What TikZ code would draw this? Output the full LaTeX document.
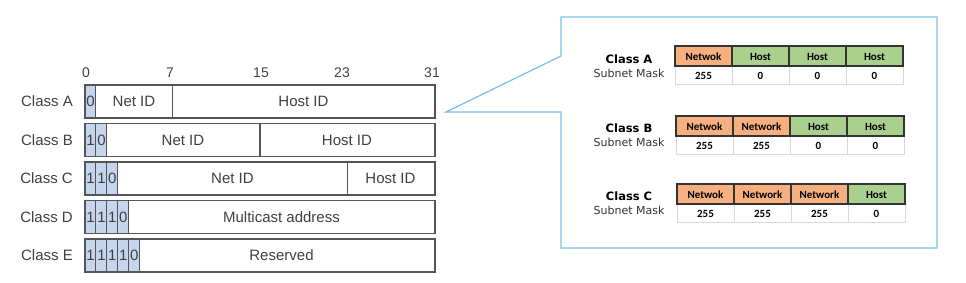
\documentclass[tikz,border=0pt]{standalone}
\usepackage{fontspec}
\setmainfont{Liberation Sans}
\newfontfamily\maskfont{DejaVu Sans}
\newfontfamily\cellfont{Carlito}
\usepackage{tikz}
\usepackage{xcolor}

\definecolor{bitblue}{RGB}{197,213,238}
\definecolor{framegray}{RGB}{85,85,85}
\definecolor{txtgray}{RGB}{64,64,64}
\definecolor{calloutblue}{RGB}{120,192,228}
\definecolor{netorange}{RGB}{246,176,128}
\definecolor{hostgreen}{RGB}{170,208,142}
\definecolor{cellgray}{RGB}{212,218,228}

\begin{document}
\begin{tikzpicture}[x=1pt,y=-1pt,font=\fontsize{15}{17}\selectfont,line cap=round,
  bar/.style={draw=framegray,line width=1.4pt},
  bitcell/.style={draw=framegray,fill=bitblue,line width=1pt},
  lbl/.style={text=txtgray,inner sep=0pt},
  tick/.style={lbl,font=\fontsize{14}{16}\selectfont},
  head/.style={draw=black!80,line width=1.1pt},
  val/.style={draw=cellgray,fill=white,line width=0.6pt},
  celltxt/.style={font=\cellfont\bfseries\fontsize{11}{13}\selectfont,inner sep=0pt},
  masktitle/.style={font=\maskfont\bfseries\fontsize{11.5}{13}\selectfont,inner sep=0pt},
  masksub/.style={font=\maskfont\fontsize{11}{13}\selectfont,text=black!80,inner sep=0pt}]
\useasboundingbox (0,0) rectangle (966,282);

% bit positions
\node[tick] (t0) at (86,73) {0};
\node[tick] (t7) at (170,73) {7};
\node[tick] (t15) at (261,73) {15};
\node[tick] (t23) at (342,73) {23};
\node[tick] (t31) at (432,73) {31};

% Class A
\node[lbl,anchor=east] (clsA) at (73,101.5) {Class A};
\foreach \d [count=\i from 0] in {0} {
  \draw[bitcell] ({85+\i*10.94},85) rectangle ({85+(\i+1)*10.94},118);
  \node[lbl] (bitA\i) at ({90.5+\i*10.94},101.5) {\d};
}
\draw[bar] (85,85) rectangle (435,118);
\draw[bar] (172.5,85) -- (172.5,118);
\node[lbl] (netA) at (134,101.5) {Net ID};
\node[lbl] (hostA) at (303.5,101.5) {Host ID};

% Class B
\node[lbl,anchor=east] (clsB) at (73,140) {Class B};
\foreach \d [count=\i from 0] in {1,0} {
  \draw[bitcell] ({85+\i*10.94},123.5) rectangle ({85+(\i+1)*10.94},156.5);
  \node[lbl] (bitB\i) at ({90.5+\i*10.94},140) {\d};
}
\draw[bar] (85,123.5) rectangle (435,156.5);
\draw[bar] (260,123.5) -- (260,156.5);
\node[lbl] (netB) at (183,140) {Net ID};
\node[lbl] (hostB) at (347,140) {Host ID};

% Class C
\node[lbl,anchor=east] (clsC) at (73,178.5) {Class C};
\foreach \d [count=\i from 0] in {1,1,0} {
  \draw[bitcell] ({85+\i*10.94},162) rectangle ({85+(\i+1)*10.94},195);
  \node[lbl] (bitC\i) at ({90.5+\i*10.94},178.5) {\d};
}
\draw[bar] (85,162) rectangle (435,195);
\draw[bar] (347.5,162) -- (347.5,195);
\node[lbl] (netC) at (232.5,178.5) {Net ID};
\node[lbl] (hostC) at (390.5,178.5) {Host ID};

% Class D
\node[lbl,anchor=east] (clsD) at (73,217) {Class D};
\foreach \d [count=\i from 0] in {1,1,1,0} {
  \draw[bitcell] ({85+\i*10.94},200.5) rectangle ({85+(\i+1)*10.94},233.5);
  \node[lbl] (bitD\i) at ({90.5+\i*10.94},217) {\d};
}
\draw[bar] (85,200.5) rectangle (435,233.5);
\node[lbl] (mcD) at (281.5,217) {Multicast address};

% Class E
\node[lbl,anchor=east] (clsE) at (73,255.5) {Class E};
\foreach \d [count=\i from 0] in {1,1,1,1,0} {
  \draw[bitcell] ({85+\i*10.94},239) rectangle ({85+(\i+1)*10.94},272);
  \node[lbl] (bitE\i) at ({90.5+\i*10.94},255.5) {\d};
}
\draw[bar] (85,239) rectangle (435,272);
\node[lbl] (resE) at (281.5,255.5) {Reserved};

% callout with the subnet masks
\coordinate (tip) at (446,112);
\coordinate (upper) at (561,56);
\coordinate (lower) at (561,112);
\draw[calloutblue,line width=1.2pt,line join=miter] (upper) -- (tip) -- (lower) -- (561,248) -- (937,248) -- (937,17) -- (561,17) -- cycle;

% Class A mask
\node[masktitle] (maskA) at (629,59) {Class A};
\node[masksub] (subA) at (629,73) {Subnet Mask};
\foreach \t/\c/\v [count=\i from 0] in {Netwok/netorange/255,Host/hostgreen/0,Host/hostgreen/0,Host/hostgreen/0} {
  \draw[val] ({675+\i*57},66) rectangle ({732+\i*57},84);
  \draw[head,fill=\c] ({675+\i*57},46) rectangle ({732+\i*57},66);
  \node[celltxt] (hA\i) at ({703.5+\i*57},56.5) {\t};
  \node[celltxt] (vA\i) at ({703.5+\i*57},75.5) {\v};
}

% Class B mask
\node[masktitle] (maskB) at (629,128) {Class B};
\node[masksub] (subB) at (629,142) {Subnet Mask};
\foreach \t/\c/\v [count=\i from 0] in {Netwok/netorange/255,Network/netorange/255,Host/hostgreen/0,Host/hostgreen/0} {
  \draw[val] ({676+\i*57},136) rectangle ({733+\i*57},154);
  \draw[head,fill=\c] ({676+\i*57},116) rectangle ({733+\i*57},136);
  \node[celltxt] (hB\i) at ({704.5+\i*57},126.5) {\t};
  \node[celltxt] (vB\i) at ({704.5+\i*57},145.5) {\v};
}

% Class C mask
\node[masktitle] (maskC) at (629,196) {Class C};
\node[masksub] (subC) at (629,210) {Subnet Mask};
\foreach \t/\c/\v [count=\i from 0] in {Netwok/netorange/255,Network/netorange/255,Network/netorange/255,Host/hostgreen/0} {
  \draw[val] ({677+\i*57},204) rectangle ({734+\i*57},222);
  \draw[head,fill=\c] ({677+\i*57},184) rectangle ({734+\i*57},204);
  \node[celltxt] (hC\i) at ({705.5+\i*57},194.5) {\t};
  \node[celltxt] (vC\i) at ({705.5+\i*57},213.5) {\v};
}
\end{tikzpicture}
\end{document}
